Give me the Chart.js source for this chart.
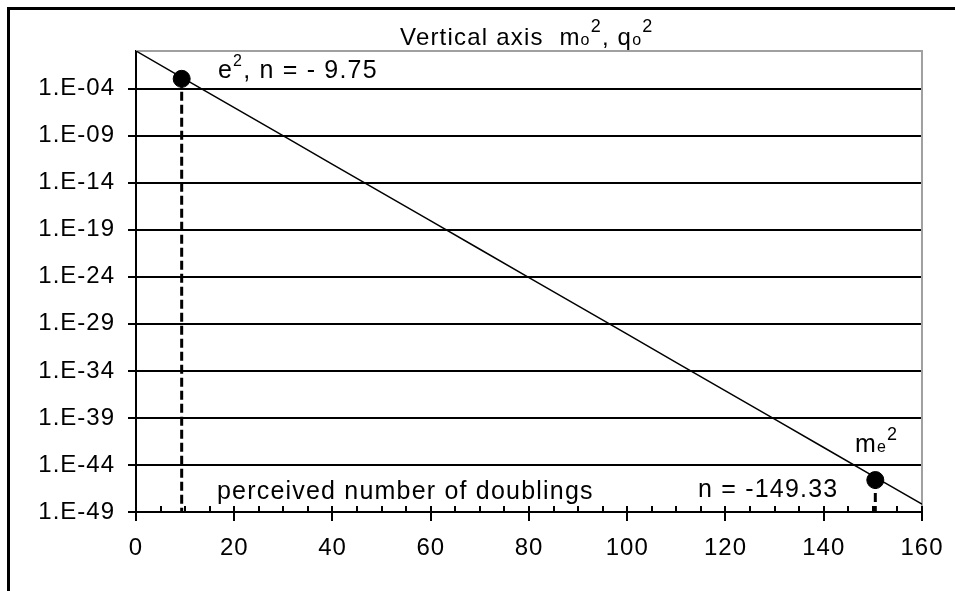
<!DOCTYPE html>
<html>
<head>
<meta charset="utf-8">
<script src="https://cdn.jsdelivr.net/npm/chart.js@4"></script>
<style>
  html, body { margin: 0; padding: 0; background: #fff; }
  canvas { display: block; }
</style>
</head>
<body>
<canvas id="grafico" width="955" height="591"></canvas>
<script>
// valores (n = número de duplicações)
const xValues = [0, 10, 20, 30, 40, 50, 60, 70, 80, 90, 100, 110, 120, 130, 140, 150, 160];
const yValues = [1, 9.8e-4, 9.5e-7, 9.3e-10, 9.1e-13, 8.9e-16, 8.7e-19, 8.5e-22, 8.3e-25,
                 8.1e-28, 7.9e-31, 7.7e-34, 7.5e-37, 7.3e-40, 7.2e-43, 7.0e-46, 6.8e-49];

// pontos marcados (e^2 e m_e^2)
const markerX = [9.3, 150.5];
const markerY = [1.1e-3, 2.5e-46];

// eixos
const yMin = 1e-49;
const yMax = 1;
const yTicks = [1e-4, 1e-9, 1e-14, 1e-19, 1e-24, 1e-29, 1e-34, 1e-39, 1e-44, 1e-49];
const yTickLabels = ["1.E-04", "1.E-09", "1.E-14", "1.E-19", "1.E-24", "1.E-29", "1.E-34", "1.E-39", "1.E-44", "1.E-49"];
const xMajorTicks = [0, 20, 40, 60, 80, 100, 120, 140, 160];

const FONTE = '"Liberation Sans", Arial, sans-serif';
Chart.defaults.font.family = FONTE;
Chart.defaults.color = "#000";

// escreve texto com sub/sobrescritos
function escreverPartes(ctx, x, y, partes)
{
  partes.forEach(p =>
  {
    ctx.font = p.size + "px " + FONTE;
    ctx.fillText(p.t, x, y + (p.dy || 0));
    x += ctx.measureText(p.t).width;
  });
}

const decoracao =
{
  id: "decoracao",
  beforeDraw(chart)
  {
    const ctx = chart.ctx;
    ctx.save();
    ctx.fillStyle = "#fff";
    ctx.fillRect(0, 0, chart.width, chart.height);
    ctx.restore();
    ctx.letterSpacing = "1px";
  },
  beforeDatasetsDraw(chart)
  {
    const ctx = chart.ctx;
    const a = chart.chartArea;
    const xs = chart.scales.x;
    ctx.save();
    // borda cinza de cima e da direita
    ctx.strokeStyle = "#a0a0a0";
    ctx.lineWidth = 2;
    ctx.beginPath();
    ctx.moveTo(a.left, a.top);
    ctx.lineTo(a.right, a.top);
    ctx.lineTo(a.right, a.bottom);
    ctx.stroke();
    // marcas menores para dentro
    ctx.strokeStyle = "#000";
    ctx.lineWidth = 2;
    xs.ticks.forEach(t =>
    {
      const px = Math.round(xs.getPixelForValue(t.value));
      ctx.beginPath();
      ctx.moveTo(px, a.bottom);
      ctx.lineTo(px, a.bottom - 6);
      ctx.stroke();
    });
    ctx.restore();
  },
  afterDraw(chart)
  {
    const ctx = chart.ctx;
    ctx.save();
    // moldura externa
    ctx.strokeStyle = "#000";
    ctx.lineWidth = 3;
    ctx.beginPath();
    ctx.moveTo(8.5, chart.height);
    ctx.lineTo(8.5, 8.5);
    ctx.lineTo(chart.width, 8.5);
    ctx.stroke();

    ctx.fillStyle = "#000";
    ctx.textBaseline = "alphabetic";
    ctx.textAlign = "left";
    ctx.letterSpacing = "1.2px";

    escreverPartes(ctx, 400, 45, [
      { t: "Vertical axis  m", size: 24 },
      { t: "o", size: 16 },
      { t: "2", size: 18, dy: -13 },
      { t: ", q", size: 24 },
      { t: "o", size: 16 },
      { t: "2", size: 18, dy: -13 }
    ]);
    escreverPartes(ctx, 218, 78, [
      { t: "e", size: 25 },
      { t: "2", size: 16, dy: -12 },
      { t: ", n = - 9.75", size: 25 }
    ]);
    escreverPartes(ctx, 217, 499, [
      { t: "perceived number of doublings", size: 25 }
    ]);
    escreverPartes(ctx, 698, 497, [
      { t: "n = -149.33", size: 25 }
    ]);
    escreverPartes(ctx, 855, 452, [
      { t: "m", size: 25 },
      { t: "e", size: 16 },
      { t: "2", size: 18, dy: -12 }
    ]);
    ctx.restore();
  }
};

const ctx = document.getElementById("grafico").getContext("2d");

new Chart(ctx,
{
  type: "scatter",
  data:
  {
    datasets: [
    {
      // curva principal
      data: xValues.map((x, i) => ({ x: x, y: yValues[i] })),
      showLine: true,
      borderColor: "#000",
      borderWidth: 1.5,
      pointRadius: 0,
      order: 3
    },
    {
      // linha tracejada e^2
      data: [{ x: markerX[0], y: markerY[0] }, { x: markerX[0], y: yMin }],
      showLine: true,
      borderColor: "#000",
      borderWidth: 3,
      borderDash: [9, 4],
      pointRadius: 0,
      order: 2
    },
    {
      // linha tracejada m_e^2
      data: [{ x: markerX[1], y: markerY[1] }, { x: markerX[1], y: yMin }],
      showLine: true,
      borderColor: "#000",
      borderWidth: 3,
      borderDash: [9, 4],
      pointRadius: 0,
      order: 2
    },
    {
      // pontos
      data: markerX.map((x, i) => ({ x: x, y: markerY[i] })),
      pointRadius: 8.5,
      pointBackgroundColor: "#000",
      pointBorderColor: "#000",
      order: 1
    }]
  },
  options:
  {
    responsive: false,
    animation: false,
    layout: { padding: { top: 51, right: 33, left: 0, bottom: 0 } },
    plugins:
    {
      legend: { display: false },
      tooltip: { enabled: false },
      title: { display: false }
    },
    scales:
    {
      x:
      {
        type: "linear",
        min: 0,
        max: 160,
        afterFit: s => { s.height = 79; },
        ticks:
        {
          stepSize: 5,
          autoSkip: false,
          maxRotation: 0,
          padding: 13,
          font: { size: 24 },
          callback: v => xMajorTicks.includes(v) ? String(v) : ""
        },
        grid:
        {
          drawOnChartArea: false,
          drawTicks: true,
          tickLength: 9,
          lineWidth: 2,
          color: c => (c.tick && xMajorTicks.includes(c.tick.value)) ? "#000" : "rgba(0,0,0,0)"
        },
        border: { display: true, color: "#000", width: 2 }
      },
      y:
      {
        type: "logarithmic",
        min: yMin,
        max: yMax,
        afterFit: s => { s.width = 136; },
        afterBuildTicks: s => { s.ticks = yTicks.map(v => ({ value: v })); },
        ticks:
        {
          padding: 13,
          font: { size: 24 },
          callback: (v, i) => yTickLabels[i]
        },
        grid:
        {
          color: "#000",
          lineWidth: 2,
          tickLength: 8,
          tickColor: "#000"
        },
        border: { display: true, color: "#000", width: 2 }
      }
    }
  },
  plugins: [decoracao]
});
</script>
</body>
</html>
